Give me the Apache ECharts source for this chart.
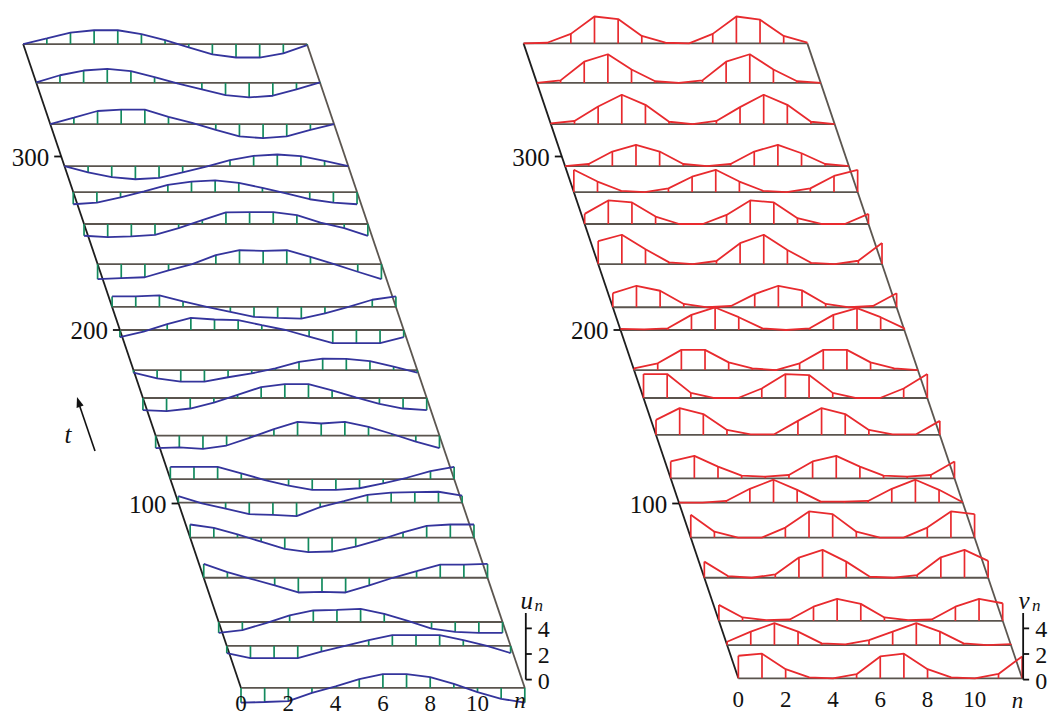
<!DOCTYPE html>
<html>
<head>
<meta charset="utf-8">
<script src="https://cdn.jsdelivr.net/npm/echarts/dist/echarts.min.js"></script>
<style>
html,body{margin:0;padding:0;background:#ffffff;}
#chart{width:1049px;height:716px;}
</style>
</head>
<body>
<div id="chart"></div>
<script>
// ---------------- data ----------------
const nValues = [0,1,2,3,4,5,6,7,8,9,10,11,12];
const sliceTimesU = [364.8, 342.4, 318.7, 294.5, 279.5, 261.1, 238.0, 213.3, 200.0, 176.9, 160.8, 139.1, 114.1, 100.5, 80.3, 57.2, 31.7, 17.9, -6.3];
const sliceTimesV = [365.2, 342.4, 318.7, 294.5, 279.5, 261.1, 238.0, 213.1, 200.0, 176.9, 160.8, 139.5, 114.5, 100.5, 80.3, 57.2, 32.4, 18.4, -0.75];
const uSlices = [
  [0, 0.44, 0.9, 1.08, 1.08, 0.77, 0.3, -0.26, -0.8, -1.05, -1.05, -0.72, -0.08],
  [0.05, 0.6, 0.97, 1.1, 0.92, 0.46, -0.05, -0.5, -0.95, -1.13, -1.0, -0.5, 0.05],
  [0, 0.5, 1.02, 1.13, 1.13, 0.56, 0.1, -0.46, -0.97, -1.1, -0.97, -0.46, 0],
  [0, -0.5, -0.87, -1.03, -0.92, -0.5, -0.05, 0.46, 0.8, 0.9, 0.77, 0.41, 0],
  [-0.95, -0.82, -0.41, 0.05, 0.56, 0.82, 0.92, 0.72, 0.33, -0.1, -0.56, -0.82, -0.95],
  [-0.92, -1.03, -0.97, -0.85, -0.33, 0.3, 0.9, 0.92, 0.92, 0.7, 0.1, -0.33, -0.92],
  [-1.18, -1.1, -1.03, -0.5, 0, 0.7, 1.08, 1.03, 1.08, 0.56, 0, -0.6, -1.18],
  [0.82, 0.82, 0.9, 0.44, 0, -0.38, -0.77, -0.85, -0.92, -0.51, 0, 0.56, 0.82],
  [-0.56, -0.13, 0.46, 0.95, 0.82, 0.77, 0.38, 0, -0.51, -1.03, -1.03, -1.03, -0.56],
  [-0.2, -0.64, -0.9, -0.9, -0.56, -0.26, 0.13, 0.64, 0.9, 0.87, 0.7, 0.26, -0.2],
  [-0.95, -1.03, -0.82, -0.36, 0.25, 0.85, 1.08, 1.08, 0.6, 0.05, -0.45, -0.82, -0.95],
  [-0.97, -0.92, -1.03, -0.77, -0.15, 0.51, 1.08, 0.95, 1.08, 0.69, 0.13, -0.46, -0.97],
  [0.95, 0.95, 0.95, 0.44, -0.08, -0.51, -0.85, -0.85, -0.72, -0.33, 0.1, 0.62, 0.95],
  [0.5, -0.05, -0.47, -0.9, -0.95, -1.05, -0.35, 0.12, 0.6, 0.78, 0.82, 0.85, 0.54],
  [1.03, 0.77, 0.26, -0.31, -0.87, -1.13, -1.08, -0.69, -0.18, 0.41, 0.92, 1.03, 1.03],
  [1.08, 0.44, -0.08, -0.59, -1.15, -1.1, -1.15, -0.59, 0, 0.51, 1.03, 1.03, 1.08],
  [-0.85, -0.64, -0.08, 0.51, 0.9, 0.95, 1.03, 0.64, 0.08, -0.51, -0.77, -0.85, -0.85],
  [-0.56, -0.95, -0.95, -0.95, -0.44, 0, 0.46, 0.85, 0.85, 0.85, 0.46, 0, -0.56],
  [-1.15, -1.1, -1.03, -0.38, 0.13, 0.69, 1.08, 1.08, 0.85, 0.31, -0.33, -0.85, -1.15]
];
const vSlices = [
  [0, 0.05, 0.74, 2.1, 1.9, 0.58, 0.05, 0, 0.74, 2.1, 1.85, 0.58, 0.05],
  [0, 0.2, 1.66, 2.24, 1.05, 0.13, 0, 0.2, 1.66, 2.24, 1.05, 0.13, 0],
  [0.05, 0.24, 1.37, 2.29, 1.5, 0.18, 0, 0.24, 1.32, 2.29, 1.5, 0.18, 0],
  [0, 0.16, 1.13, 1.66, 1.13, 0.16, 0, 0.16, 1.13, 1.66, 1.0, 0.16, 0],
  [1.74, 0.82, 0.1, 0, 0.29, 1.2, 1.74, 0.82, 0.1, 0, 0.29, 1.26, 1.74],
  [0.79, 1.84, 1.68, 0.58, 0, 0, 0.71, 1.84, 1.68, 0.45, 0, 0, 0.79],
  [1.8, 2.29, 1.16, 0.13, 0, 0.24, 1.63, 2.29, 1.1, 0.1, 0, 0.26, 1.65],
  [1.1, 1.68, 1.29, 0.26, 0, 0.1, 1.03, 1.68, 1.32, 0.26, 0, 0.1, 1.1],
  [0.08, 0.05, 0.13, 1.18, 1.76, 1.0, 0.13, 0, 0.13, 1.18, 1.71, 1.0, 0.13],
  [0.13, 0.53, 1.58, 1.58, 0.6, 0.13, 0, 0.53, 1.58, 1.58, 0.6, 0.13, 0],
  [1.87, 1.87, 0.4, 0, 0, 0.74, 1.87, 1.79, 0.4, 0, 0, 0.74, 1.87],
  [1.18, 2.1, 1.63, 0.39, 0.05, 0.05, 1.1, 2.1, 1.63, 0.39, 0.05, 0.05, 1.1],
  [1.32, 1.76, 0.92, 0.21, 0.13, 0.26, 1.32, 1.76, 0.92, 0.21, 0.13, 0.26, 1.32],
  [0, 0, 0.13, 1.08, 1.79, 1.0, 0.08, 0.08, 0.13, 1.08, 1.79, 1.0, 0.03],
  [1.79, 0.47, 0, 0, 0.79, 2.05, 1.84, 0.47, 0, 0, 0.79, 2.05, 1.84],
  [1.26, 0.13, 0, 0.26, 1.58, 2.18, 1.26, 0.08, 0, 0.21, 1.6, 2.18, 1.32],
  [1.24, 0.26, 0.05, 0.1, 1.1, 1.71, 1.32, 0.26, 0.05, 0.1, 1.1, 1.71, 1.37],
  [0.26, 1.05, 1.71, 1.05, 0.13, 0.05, 0.39, 1.05, 1.71, 1.05, 0.13, 0, 0.08],
  [1.76, 1.92, 0.71, 0.08, 0, 0.32, 1.71, 1.92, 0.71, 0.08, 0, 0.34, 1.71]
];
const tTickValues = [100, 200, 300];
const nTickValues = [0, 2, 4, 6, 8, 10];
const ampTickValues = [0, 2, 4];

// ---------------- projection (oblique waterfall) ----------------
const SKEW = 0.02482;   // lattice units shifted per unit of t
const AMP = 7.38;       // t-units per unit of amplitude
const AMP_AXIS_TOP = 5.2;
const AMP_AXIS_T = -1.5;  // level of the amplitude scale's zero
const SERIF = '"Liberation Serif", "Times New Roman", serif';
const px = (n, t) => n - SKEW * t;
const py = (t, a) => t + AMP * a;

function textEl(str, x, y, size, align, italic) {
  const font = (italic ? 'italic ' : '') + size + 'px ' + SERIF;
  return { type: 'text', style: {
    text: str, x: x, y: y, font: font, fill: '#111',
    textAlign: align, textVerticalAlign: 'middle', align: align, verticalAlign: 'middle'
  }};
}
function lineEl(x1, y1, x2, y2, color, w) {
  return { type: 'line', shape: { x1, y1, x2, y2 }, style: { stroke: color, lineWidth: w } };
}

const series = [];
function addPanel(idx, times, slices, curveColor, stemColor, ampSymbol, labelDrop, nDrop) {
  const tTop = Math.max(...times), tBot = Math.min(...times);
  const nLast = nValues[nValues.length - 1];
  const common = { xAxisIndex: idx, yAxisIndex: idx, showSymbol: false, silent: true, animation: false };
  // oblique side lines
  series.push(Object.assign({ type: 'line', data: [[px(0, tTop), tTop], [px(0, tBot), tBot]],
    lineStyle: { color: '#1e1e1e', width: 1.8 }, z: 1 }, common));
  series.push(Object.assign({ type: 'line', data: [[px(nLast, tTop), tTop], [px(nLast, tBot), tBot]],
    lineStyle: { color: '#5c5650', width: 1.8 }, z: 1 }, common));
  // baselines
  times.forEach(t => {
    series.push(Object.assign({ type: 'line', data: [[px(0, t), t], [px(nLast, t), t]],
      lineStyle: { color: '#5a544e', width: 1.8 }, z: 2 }, common));
  });
  // stems
  const stemData = [];
  times.forEach((t, i) => slices[i].forEach((v, j) => stemData.push([px(nValues[j], t), t, py(t, v)])));
  series.push({ type: 'custom', xAxisIndex: idx, yAxisIndex: idx, silent: true, animation: false, z: 3,
    data: stemData, encode: { x: 0, y: [1, 2] },
    renderItem: (params, api) => {
      const a = api.coord([api.value(0), api.value(1)]);
      const b = api.coord([api.value(0), api.value(2)]);
      return lineEl(a[0], a[1], b[0], b[1], stemColor, 1.7);
    } });
  // curves
  times.forEach((t, i) => {
    series.push(Object.assign({ type: 'line', data: slices[i].map((v, j) => [px(nValues[j], t), py(t, v)]),
      lineStyle: { color: curveColor, width: 1.8 }, z: 4 }, common));
  });
  // axes annotations (t ticks, n ticks, amplitude scale)
  series.push({ type: 'custom', xAxisIndex: idx, yAxisIndex: idx, silent: true, animation: false, z: 5,
    data: [[px(0, tBot), tBot]],
    renderItem: (params, api) => {
      const ch = [];
      tTickValues.forEach(tv => {
        const p = api.coord([px(0, tv), tv]);
        ch.push(lineEl(p[0] - 7, p[1], p[0], p[1], '#111', 1.8));
        ch.push(textEl(String(tv), p[0] - 12, p[1] + 1, 25, 'right', false));
      });
      nTickValues.forEach(nv => {
        const p = api.coord([px(nv, tBot), tBot]);
        ch.push(textEl(String(nv), p[0], p[1] + labelDrop, 23, 'center', false));
      });
      const pn = api.coord([px(11.8, tBot), tBot]);
      ch.push(textEl('n', pn[0], pn[1] + nDrop, 23, 'center', true));
      const axX = api.coord([px(nLast, tBot), tBot])[0] + 1;
      const baseY = api.coord([0, py(AMP_AXIS_T, 0)])[1];
      const topY = api.coord([0, py(AMP_AXIS_T, AMP_AXIS_TOP)])[1];
      ch.push(lineEl(axX, baseY, axX, topY, '#111', 1.8));
      ampTickValues.forEach(av => {
        const y = api.coord([0, py(AMP_AXIS_T, av)])[1];
        ch.push(lineEl(axX, y, axX + 6, y, '#111', 1.8));
        ch.push(textEl(String(av), axX + 18, y + 1, 24, 'center', false));
      });
      ch.push(textEl(ampSymbol, axX + 1, topY - 13, 25, 'center', true));
      ch.push(textEl('n', axX + 13, topY - 8, 17, 'center', true));
      return { type: 'group', children: ch };
    } });
}

addPanel(0, sliceTimesU, uSlices, '#34349c', '#138a5e', 'u', 16, 13);
addPanel(1, sliceTimesV, vSlices, '#e82a2e', '#e82a2e', 'v', 21, 22);

const chart = echarts.init(document.getElementById('chart'), null, { renderer: 'svg', width: 1049, height: 716 });
const yAxisCfg = { type: 'value', min: -22.478, max: 390.2, show: false };
chart.setOption({
  animation: false,
  backgroundColor: '#ffffff',
  grid: [
    { left: 0, top: 0, width: 1049, height: 716, containLabel: false },
    { left: 0, top: 0, width: 1049, height: 716, containLabel: false }
  ],
  xAxis: [
    { type: 'value', gridIndex: 0, min: -10.034, max: 34.321, show: false },
    { type: 'value', gridIndex: 1, min: -31.201, max: 13.154, show: false }
  ],
  yAxis: [ Object.assign({ gridIndex: 0 }, yAxisCfg), Object.assign({ gridIndex: 1 }, yAxisCfg) ],
  graphic: [
    { type: 'line', shape: { x1: 95, y1: 451, x2: 79, y2: 404 }, style: { stroke: '#111', lineWidth: 1.6 } },
    { type: 'polygon', shape: { points: [[77, 397], [83.6, 405.6], [76.6, 407.9]] }, style: { fill: '#111' } },
    { type: 'text', style: { text: 't', x: 68, y: 434, font: 'italic 25px ' + SERIF, fill: '#111',
      textAlign: 'center', textVerticalAlign: 'middle', align: 'center', verticalAlign: 'middle' } }
  ],
  series: series
});
</script>
</body>
</html>
